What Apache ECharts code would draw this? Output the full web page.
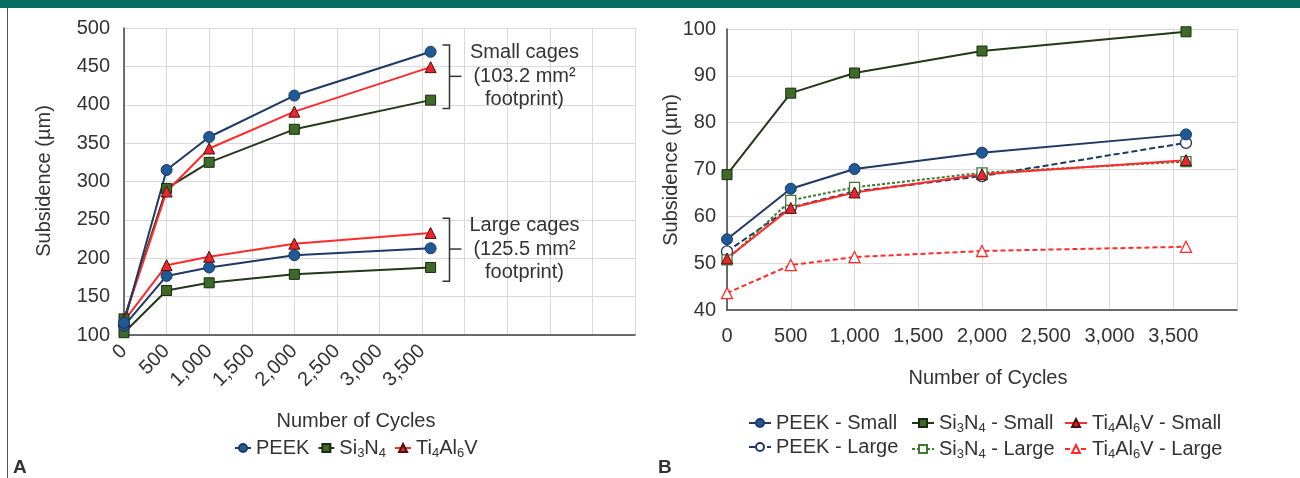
<!DOCTYPE html>
<html>
<head>
<meta charset="utf-8">
<script src="https://cdn.jsdelivr.net/npm/echarts@6/dist/echarts.min.js"></script>
<style>
html,body{margin:0;padding:0;background:#fff;}
#c{width:1300px;height:478px;}
</style>
</head>
<body>
<div id="c"></div>
<script>
// ---------- data ----------
const cycles = [0, 500, 1000, 2000, 3600];

// Panel A (Subsidence, µm)
const aPeekSmall = [116, 315, 358, 412, 469];
const aSiSmall   = [121, 291, 325, 368, 406];
const aTiSmall   = [120, 287, 343, 391, 449];
const aPeekLarge = [112, 177, 188, 204, 213];
const aSiLarge   = [103, 158, 168, 179, 188];
const aTiLarge   = [118, 191, 202, 219, 233];

// Panel B (Subsidence, µm)
const bPeekSmall = [55.1, 65.9, 70.1, 73.6, 77.5];
const bSiSmall   = [68.9, 86.3, 90.6, 95.3, 99.4];
const bTiSmall   = [51.0, 61.8, 65.1, 69.0, 72.0];
const bPeekLarge = [52.5, 61.9, 65.3, 68.6, 75.7];
const bSiLarge   = [50.7, 63.4, 66.2, 69.3, 71.7];
const bTiLarge   = [43.6, 49.6, 51.3, 52.6, 53.5];

const aXTicks = ['0', '500', '1,000', '1,500', '2,000', '2,500', '3,000', '3,500'];
const bXTicks = ['0', '500', '1,000', '1,500', '2,000', '2,500', '3,000', '3,500'];

// ---------- style ----------
const FONT = '"Liberation Sans", Arial, Helvetica, sans-serif';
const TXT = '#333333';
const NAVY = '#1f3864', BLUE = '#1f5a96';
const DGREEN = '#22381a', GREEN = '#3d6b27', LGREEN = '#3f7a33';
const RED = '#ff2b2b', RED_FILL = '#e8262b';

const pair = arr => cycles.map((c, i) => [c, arr[i]]);

const rich = {
  a: {fontSize: 20, color: TXT, fontFamily: FONT, lineHeight: 24},
  s: {fontSize: 13, color: TXT, fontFamily: FONT, lineHeight: 10, verticalAlign: 'bottom'}
};
const labelMap = {
  'PEEK': '{a|PEEK}',
  'Si3N4': '{a|Si}{s|3}{a|N}{s|4}',
  'Ti4Al6V': '{a|Ti}{s|4}{a|Al}{s|6}{a|V}',
  'PEEK - Small': '{a|PEEK - Small}',
  'Si3N4 - Small': '{a|Si}{s|3}{a|N}{s|4}{a| - Small}',
  'Ti4Al6V - Small': '{a|Ti}{s|4}{a|Al}{s|6}{a|V - Small}',
  'PEEK - Large': '{a|PEEK - Large}',
  'Si3N4 - Large': '{a|Si}{s|3}{a|N}{s|4}{a| - Large}',
  'Ti4Al6V - Large': '{a|Ti}{s|4}{a|Al}{s|6}{a|V - Large}'
};

function fmtTicks(ticks) {
  return function (v) {
    const i = v / 500;
    return (Number.isInteger(i) && i < ticks.length) ? ticks[i] : '';
  };
}

function sPeek(name, data, xi, dashed) {
  return {
    name, type: 'line', xAxisIndex: xi, yAxisIndex: xi, data: pair(data),
    symbol: 'circle', symbolSize: 11,
    lineStyle: {color: NAVY, width: 2, type: dashed ? [6, 3] : 'solid'},
    itemStyle: {color: dashed ? '#ffffff' : BLUE, borderColor: NAVY, borderWidth: dashed ? 1.3 : 1}
  };
}
function sSi(name, data, xi, dashed) {
  return {
    name, type: 'line', xAxisIndex: xi, yAxisIndex: xi, data: pair(data),
    symbol: 'rect', symbolSize: 10,
    lineStyle: {color: dashed ? LGREEN : DGREEN, width: 2, type: dashed ? [3, 2] : 'solid'},
    itemStyle: {color: dashed ? '#ffffff' : GREEN, borderColor: dashed ? LGREEN : '#1a2a12', borderWidth: dashed ? 1.3 : 1}
  };
}
function sTi(name, data, xi, dashed) {
  return {
    name, type: 'line', xAxisIndex: xi, yAxisIndex: xi, data: pair(data),
    symbol: 'triangle', symbolSize: 11,
    lineStyle: {color: RED, width: 2, type: dashed ? [5, 3] : 'solid'},
    itemStyle: {color: dashed ? '#ffffff' : RED_FILL, borderColor: dashed ? RED : '#4a1010', borderWidth: dashed ? 1.3 : 1}
  };
}

const axisLabelStyle = {color: TXT, fontSize: 20, fontFamily: FONT};
const gridLine = {show: true, lineStyle: {color: '#d9d9d9', width: 1}};
const axisLine = {show: true, lineStyle: {color: '#404040', width: 1.5}};

const chart = echarts.init(document.getElementById('c'), null, {renderer: 'canvas'});

const legendBase = {
  textStyle: {rich: rich, color: TXT, fontSize: 20, fontFamily: FONT},
  formatter: n => labelMap[n],
  selectedMode: false
};

const option = {
  animation: false,
  backgroundColor: '#ffffff',
  grid: [
    {left: 124, top: 28, width: 511, height: 307},
    {left: 727, top: 29, width: 510, height: 281}
  ],
  xAxis: [
    {type: 'value', gridIndex: 0, min: 0, max: 6000, interval: 500,
     axisLine: axisLine, axisTick: {show: false}, splitLine: gridLine,
     axisLabel: Object.assign({rotate: 45, margin: 13, formatter: fmtTicks(aXTicks)}, axisLabelStyle)},
    {type: 'value', gridIndex: 1, min: 0, max: 4000, interval: 500,
     axisLine: axisLine, axisTick: {show: false}, splitLine: gridLine,
     axisLabel: Object.assign({margin: 16, formatter: fmtTicks(bXTicks)}, axisLabelStyle)}
  ],
  yAxis: [
    {type: 'value', gridIndex: 0, min: 100, max: 500, interval: 50,
     axisLine: axisLine, axisTick: {show: false}, splitLine: gridLine,
     axisLabel: Object.assign({margin: 14}, axisLabelStyle)},
    {type: 'value', gridIndex: 1, min: 40, max: 100, interval: 10,
     axisLine: axisLine, axisTick: {show: false}, splitLine: gridLine,
     axisLabel: Object.assign({margin: 11}, axisLabelStyle)}
  ],
  legend: [
    Object.assign({}, legendBase, {data: ['PEEK', 'Si3N4', 'Ti4Al6V'], left: 234, top: 438,
      orient: 'horizontal', itemWidth: 16, itemHeight: 10, itemGap: 8, padding: 0}),
    Object.assign({}, legendBase, {data: ['PEEK - Small', 'PEEK - Large'], left: 748, top: 413,
      orient: 'vertical', itemWidth: 22, itemHeight: 10, itemGap: 4, padding: 0}),
    Object.assign({}, legendBase, {data: ['Si3N4 - Small', 'Si3N4 - Large'], left: 911, top: 413,
      orient: 'vertical', itemWidth: 22, itemHeight: 10, itemGap: 4, padding: 0}),
    Object.assign({}, legendBase, {data: ['Ti4Al6V - Small', 'Ti4Al6V - Large'], left: 1064, top: 413,
      orient: 'vertical', itemWidth: 22, itemHeight: 10, itemGap: 4, padding: 0})
  ],
  series: [
    // panel A
    sSi('Si3N4', aSiLarge, 0, false),
    sPeek('PEEK', aPeekLarge, 0, false),
    sTi('Ti4Al6V', aTiLarge, 0, false),
    sSi('Si3N4', aSiSmall, 0, false),
    sTi('Ti4Al6V', aTiSmall, 0, false),
    sPeek('PEEK', aPeekSmall, 0, false),
    // panel B
    sTi('Ti4Al6V - Large', bTiLarge, 1, true),
    sPeek('PEEK - Large', bPeekLarge, 1, true),
    sSi('Si3N4 - Large', bSiLarge, 1, true),
    sTi('Ti4Al6V - Small', bTiSmall, 1, false),
    sPeek('PEEK - Small', bPeekSmall, 1, false),
    sSi('Si3N4 - Small', bSiSmall, 1, false)
  ]
};
chart.setOption(option);

// ---------- annotations (brackets & titles) ----------
function px(x, y) { return chart.convertToPixel({xAxisIndex: 0, yAxisIndex: 0}, [x, y]); }
function bracket(xv, yTop, yBot, yMid, lines) {
  const t = px(xv, yTop), b = px(xv, yBot), m = px(xv, yMid);
  const x = Math.round(t[0]) + 0.5;
  const els = [
    {type: 'polyline', shape: {points: [[x - 7, t[1]], [x, t[1]], [x, b[1]], [x - 7, b[1]]]},
     style: {stroke: TXT, lineWidth: 1.5, fill: null}},
    {type: 'line', shape: {x1: x, y1: m[1], x2: x + 12, y2: m[1]}, style: {stroke: TXT, lineWidth: 1.5}}
  ];
  lines.forEach((s, i) => {
    els.push({type: 'text', x: x + 75, y: m[1] + (i - 1) * 23.5,
      style: {text: s, font: '20px ' + FONT, fill: TXT, align: 'center', verticalAlign: 'middle'}});
  });
  return els;
}
const graphics = [
  {type: 'rect', shape: {x: 0, y: 0, width: 1300, height: 8}, style: {fill: '#076e62'}},
  {type: 'line', shape: {x1: 7.5, y1: 8, x2: 7.5, y2: 478}, style: {stroke: '#555', lineWidth: 1}},
  {type: 'text', x: 44, y: 181, rotation: Math.PI / 2,
   style: {text: 'Subsidence (µm)', font: '20px ' + FONT, fill: TXT, align: 'center', verticalAlign: 'middle'}},
  {type: 'text', x: 671, y: 170, rotation: Math.PI / 2,
   style: {text: 'Subsidence (µm)', font: '20px ' + FONT, fill: TXT, align: 'center', verticalAlign: 'middle'}},
  {type: 'text', x: 356, y: 421,
   style: {text: 'Number of Cycles', font: '20px ' + FONT, fill: TXT, align: 'center', verticalAlign: 'middle'}},
  {type: 'text', x: 988, y: 378,
   style: {text: 'Number of Cycles', font: '20px ' + FONT, fill: TXT, align: 'center', verticalAlign: 'middle'}},
  {type: 'text', x: 13, y: 468,
   style: {text: 'A', font: 'bold 19px ' + FONT, fill: TXT, align: 'left', verticalAlign: 'middle'}},
  {type: 'text', x: 658, y: 468,
   style: {text: 'B', font: 'bold 19px ' + FONT, fill: TXT, align: 'left', verticalAlign: 'middle'}}
].concat(
  bracket(3816, 478, 395, 437, ['Small cages', '(103.2 mm²', 'footprint)']),
  bracket(3816, 252, 170, 212, ['Large cages', '(125.5 mm²', 'footprint)'])
);
chart.setOption({graphic: graphics});
</script>
</body>
</html>
